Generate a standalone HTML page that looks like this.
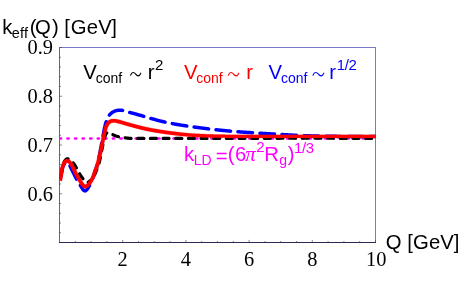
<!DOCTYPE html>
<html><head><meta charset="utf-8"><title>plot</title>
<style>html,body{margin:0;padding:0;background:#fff;width:463px;height:286px;overflow:hidden}</style>
</head><body>
<svg width="463" height="286" viewBox="0 0 463 286" style="position:absolute;left:0;top:0;will-change:transform">
<rect width="463" height="286" fill="#fff"/>
<path d="M59.00,47.50 H376.00 M375.50,47.50 V242.50" fill="none" stroke="#7a7acc" stroke-width="1"/>
<path d="M59.50,48.00 V243.00" fill="none" stroke="#686868" stroke-width="1"/>
<path d="M59.00,242.50 H376.00" fill="none" stroke="#2a2a52" stroke-width="1"/>
<path d="M75.30,242.50 v-1.5 M91.10,242.50 v-1.5 M106.90,242.50 v-1.5 M122.70,242.50 v-2.6 M138.50,242.50 v-1.5 M154.30,242.50 v-1.5 M170.10,242.50 v-1.5 M185.90,242.50 v-2.6 M201.70,242.50 v-1.5 M217.50,242.50 v-1.5 M233.30,242.50 v-1.5 M249.10,242.50 v-2.6 M264.90,242.50 v-1.5 M280.70,242.50 v-1.5 M296.50,242.50 v-1.5 M312.30,242.50 v-2.6 M328.10,242.50 v-1.5 M343.90,242.50 v-1.5 M359.70,242.50 v-1.5 M375.50,242.50 v-2.6 M59.50,232.75 h1.5 M59.50,223.00 h1.5 M59.50,213.25 h1.5 M59.50,203.50 h1.5 M59.50,193.75 h2.6 M59.50,184.00 h1.5 M59.50,174.25 h1.5 M59.50,164.50 h1.5 M59.50,154.75 h1.5 M59.50,145.00 h2.6 M59.50,135.25 h1.5 M59.50,125.50 h1.5 M59.50,115.75 h1.5 M59.50,106.00 h1.5 M59.50,96.25 h2.6 M59.50,86.50 h1.5 M59.50,76.75 h1.5 M59.50,67.00 h1.5 M59.50,57.25 h1.5 M59.50,47.50 h2.6" stroke="#3a3a4a" stroke-width="0.6" fill="none"/>
<clipPath id="c"><rect x="59.50" y="47.50" width="316.00" height="195.00"/></clipPath>
<g clip-path="url(#c)" fill="none" stroke-linejoin="round">
<path d="M59.9,138.5 H375.50" stroke="#ff00ff" stroke-width="2.6" stroke-linecap="round" stroke-dasharray="1.2 6.37"/>
<path d="M60.15,180.70 L60.23,180.21 L60.31,179.71 L60.39,179.22 L60.48,178.73 L60.56,178.23 L60.64,177.74 L60.73,177.25 L60.82,176.76 L60.91,176.27 L61.00,175.78 L61.09,175.28 L61.17,174.79 L61.26,174.30 L61.34,173.80 L61.41,173.31 L61.49,172.81 L61.57,172.32 L61.65,171.83 L61.74,171.33 L61.82,170.84 L61.91,170.35 L62.01,169.86 L62.12,169.37 L62.23,168.89 L62.35,168.40 L62.49,167.92 L62.63,167.44 L62.79,166.96 L62.97,166.49 L63.16,166.03 L63.36,165.57 L63.58,165.12 L63.80,164.67 L64.06,164.24 L64.35,163.82 L64.68,163.44 L65.05,163.09 L65.44,162.81 L65.92,162.60 L66.41,162.50 L66.90,162.55 L67.38,162.72 L67.82,162.98 L68.22,163.29 L68.59,163.63 L68.91,164.01 L69.19,164.41 L69.45,164.82 L69.69,165.25 L69.91,165.69 L70.13,166.15 L70.34,166.60 L70.54,167.07 L70.75,167.53 L70.96,168.00 L71.18,168.46 L71.41,168.92 L71.64,169.37 L71.86,169.82 L72.09,170.27 L72.32,170.71 L72.55,171.16 L72.78,171.60 L73.00,172.04 L73.23,172.48 L73.45,172.92 L73.68,173.36 L73.90,173.81 L74.13,174.25 L74.34,174.70 L74.56,175.16 L74.77,175.61 L74.99,176.06 L75.20,176.51 L75.42,176.96 L75.64,177.41 L75.86,177.86 L76.09,178.30 L76.33,178.74 L76.58,179.17 L76.83,179.60 L77.09,180.03 L77.36,180.45 L77.62,180.88 L77.88,181.31 L78.14,181.73 L78.40,182.16 L78.66,182.60 L78.92,183.03 L79.17,183.46 L79.43,183.89 L79.69,184.31 L79.96,184.74 L80.22,185.16 L80.48,185.57 L80.75,185.98 L81.00,186.39 L81.26,186.80 L81.52,187.21 L81.78,187.62 L82.05,188.04 L82.34,188.48 L82.65,188.92 L82.98,189.38 L83.34,189.83 L83.72,190.24 L84.11,190.58 L84.51,190.81 L84.91,190.90 L85.31,190.84 L85.74,190.63 L86.16,190.33 L86.58,189.94 L86.96,189.51 L87.29,189.07 L87.60,188.63 L87.89,188.20 L88.17,187.77 L88.43,187.35 L88.69,186.93 L88.93,186.51 L89.17,186.09 L89.40,185.66 L89.63,185.24 L89.85,184.80 L90.08,184.37 L90.29,183.92 L90.50,183.48 L90.71,183.03 L90.92,182.57 L91.12,182.12 L91.31,181.66 L91.51,181.19 L91.70,180.73 L91.89,180.26 L92.08,179.79 L92.26,179.32 L92.44,178.85 L92.63,178.38 L92.81,177.91 L92.99,177.44 L93.16,176.96 L93.34,176.49 L93.51,176.02 L93.68,175.55 L93.84,175.08 L94.01,174.61 L94.17,174.14 L94.33,173.66 L94.49,173.19 L94.65,172.72 L94.81,172.25 L94.98,171.78 L95.14,171.31 L95.30,170.83 L95.47,170.36 L95.63,169.89 L95.80,169.41 L95.96,168.94 L96.12,168.47 L96.28,167.99 L96.44,167.52 L96.60,167.04 L96.75,166.56 L96.90,166.09 L97.05,165.61 L97.19,165.13 L97.32,164.65 L97.45,164.17 L97.58,163.69 L97.70,163.21 L97.82,162.73 L97.94,162.25 L98.06,161.77 L98.17,161.28 L98.28,160.80 L98.39,160.32 L98.50,159.83 L98.61,159.35 L98.72,158.86 L98.82,158.37 L98.93,157.89 L99.03,157.40 L99.13,156.91 L99.23,156.42 L99.33,155.94 L99.43,155.45 L99.52,154.96 L99.62,154.47 L99.71,153.98 L99.81,153.49 L99.90,153.00 L100.00,152.50 L100.09,152.01 L100.18,151.52 L100.27,151.03 L100.36,150.54 L100.45,150.04 L100.54,149.55 L100.63,149.06 L100.72,148.57 L100.81,148.07 L100.90,147.58 L100.99,147.08 L101.08,146.59 L101.17,146.10 L101.25,145.60 L101.34,145.11 L101.43,144.61 L101.52,144.12 L101.62,143.63 L101.71,143.13 L101.80,142.64 L101.89,142.14 L101.98,141.65 L102.08,141.15 L102.17,140.66 L102.27,140.17 L102.36,139.67 L102.46,139.18 L102.55,138.68 L102.64,138.19 L102.73,137.70 L102.82,137.20 L102.91,136.71 L103.00,136.22 L103.08,135.72 L103.17,135.23 L103.26,134.74 L103.34,134.25 L103.43,133.76 L103.52,133.26 L103.61,132.77 L103.70,132.28 L103.79,131.79 L103.88,131.30 L103.97,130.81 L104.06,130.32 L104.16,129.83 L104.26,129.34 L104.36,128.85 L104.46,128.37 L104.57,127.88 L104.67,127.39 L104.79,126.91 L104.90,126.42 L105.02,125.93 L105.14,125.45 L105.26,124.97 L105.39,124.48 L105.52,124.00 L105.65,123.52 L105.79,123.04 L105.93,122.56 L106.08,122.08 L106.24,121.61 L106.40,121.13 L106.56,120.66 L106.73,120.19 L106.91,119.72 L107.10,119.25 L107.30,118.79 L107.50,118.33 L107.72,117.88 L107.96,117.43 L108.20,116.99 L108.45,116.55 L108.71,116.13 L108.99,115.71 L109.27,115.31 L109.57,114.91 L109.88,114.53 L110.22,114.16 L110.58,113.81 L110.96,113.47 L111.35,113.14 L111.75,112.83 L112.17,112.54 L112.58,112.26 L113.00,112.00 L113.43,111.76 L113.87,111.53 L114.33,111.32 L114.80,111.13 L115.28,110.96 L115.76,110.80 L116.24,110.67 L116.72,110.55 L117.21,110.45 L117.71,110.36 L118.20,110.29 L118.70,110.25 L119.20,110.21 L119.70,110.20 L120.20,110.20 L120.70,110.22 L121.19,110.25 L121.69,110.30 L122.19,110.36 L122.69,110.44 L123.18,110.53 L123.68,110.63 L124.17,110.74 L124.66,110.86 L125.14,110.99 L125.62,111.14 L126.10,111.28 L126.57,111.44 L127.05,111.59 L127.52,111.75 L128.00,111.90 L128.48,112.05 L128.96,112.20 L129.44,112.34 L129.92,112.48 L130.40,112.62 L130.88,112.76 L131.36,112.89 L131.85,113.02 L132.33,113.16 L132.81,113.29 L133.29,113.41 L133.78,113.54 L134.26,113.67 L134.74,113.80 L135.22,113.92 L135.70,114.05 L136.19,114.18 L136.67,114.31 L137.15,114.44 L137.63,114.57 L138.11,114.70 L138.59,114.84 L139.07,114.97 L139.55,115.11 L140.03,115.25 L140.51,115.38 L140.99,115.52 L141.47,115.66 L141.95,115.80 L142.43,115.94 L142.91,116.08 L143.39,116.22 L143.87,116.36 L144.35,116.50 L144.83,116.64 L145.31,116.78 L145.79,116.93 L146.27,117.07 L146.75,117.21 L147.23,117.35 L147.71,117.49 L148.19,117.63 L148.68,117.77 L149.16,117.91 L149.64,118.05 L150.12,118.19 L150.60,118.33 L151.08,118.47 L151.56,118.61 L152.04,118.74 L152.53,118.88 L153.01,119.02 L153.49,119.15 L153.97,119.29 L154.45,119.42 L154.93,119.55 L155.41,119.68 L155.90,119.82 L156.38,119.95 L156.86,120.08 L157.34,120.21 L157.83,120.33 L158.31,120.46 L158.79,120.59 L159.27,120.71 L159.76,120.84 L160.24,120.96 L160.73,121.08 L161.21,121.20 L161.70,121.32 L162.18,121.44 L162.67,121.56 L163.15,121.67 L163.64,121.79 L164.12,121.90 L164.61,122.01 L165.10,122.12 L165.58,122.23 L166.07,122.34 L166.56,122.44 L167.05,122.55 L167.54,122.65 L168.03,122.76 L168.52,122.86 L169.01,122.96 L169.50,123.06 L169.99,123.15 L170.48,123.25 L170.97,123.34 L171.46,123.44 L171.95,123.53 L172.44,123.62 L172.93,123.72 L173.43,123.81 L173.92,123.89 L174.41,123.98 L174.90,124.07 L175.40,124.16 L175.89,124.24 L176.38,124.33 L176.87,124.41 L177.37,124.49 L177.86,124.58 L178.35,124.66 L178.85,124.74 L179.34,124.82 L179.84,124.90 L180.33,124.98 L180.82,125.06 L181.32,125.13 L181.81,125.21 L182.30,125.29 L182.80,125.36 L183.29,125.44 L183.78,125.52 L184.28,125.59 L184.77,125.67 L185.27,125.74 L185.76,125.81 L186.25,125.89 L186.75,125.96 L187.24,126.03 L187.73,126.11 L188.23,126.18 L188.72,126.25 L189.22,126.32 L189.71,126.39 L190.21,126.46 L190.70,126.54 L191.20,126.61 L191.69,126.68 L192.19,126.75 L192.68,126.81 L193.18,126.88 L193.67,126.95 L194.17,127.02 L194.66,127.09 L195.16,127.16 L195.65,127.22 L196.15,127.29 L196.64,127.36 L197.14,127.42 L197.63,127.49 L198.13,127.56 L198.63,127.62 L199.12,127.69 L199.62,127.75 L200.11,127.82 L200.61,127.88 L201.10,127.94 L201.60,128.01 L202.10,128.07 L202.59,128.13 L203.09,128.20 L203.58,128.26 L204.08,128.32 L204.58,128.38 L205.07,128.44 L205.57,128.51 L206.07,128.57 L206.56,128.63 L207.06,128.69 L207.55,128.75 L208.05,128.81 L208.55,128.87 L209.04,128.92 L209.54,128.98 L210.04,129.04 L210.53,129.10 L211.03,129.16 L211.52,129.21 L212.02,129.27 L212.52,129.33 L213.01,129.38 L213.51,129.44 L214.01,129.50 L214.50,129.55 L215.00,129.61 L215.50,129.66 L215.99,129.72 L216.49,129.77 L216.99,129.82 L217.49,129.88 L217.98,129.93 L218.48,129.98 L218.98,130.03 L219.47,130.09 L219.97,130.14 L220.47,130.19 L220.97,130.24 L221.46,130.29 L221.96,130.34 L222.46,130.39 L222.95,130.44 L223.45,130.49 L223.95,130.54 L224.45,130.59 L224.94,130.63 L225.44,130.68 L225.94,130.73 L226.44,130.78 L226.93,130.82 L227.43,130.87 L227.93,130.91 L228.43,130.96 L228.93,131.00 L229.42,131.05 L229.92,131.09 L230.42,131.14 L230.92,131.18 L231.41,131.22 L231.91,131.27 L232.41,131.31 L232.91,131.35 L233.41,131.39 L233.90,131.43 L234.40,131.47 L234.90,131.51 L235.40,131.55 L235.90,131.59 L236.39,131.63 L236.89,131.67 L237.39,131.71 L237.89,131.75 L238.39,131.79 L238.89,131.82 L239.38,131.86 L239.88,131.90 L240.38,131.94 L240.88,131.97 L241.38,132.01 L241.88,132.04 L242.38,132.08 L242.87,132.12 L243.37,132.15 L243.87,132.19 L244.37,132.22 L244.87,132.26 L245.37,132.29 L245.87,132.32 L246.36,132.36 L246.86,132.39 L247.36,132.43 L247.86,132.46 L248.36,132.49 L248.86,132.53 L249.36,132.56 L249.86,132.59 L250.35,132.62 L250.85,132.66 L251.35,132.69 L251.85,132.72 L252.35,132.75 L252.85,132.78 L253.35,132.81 L253.84,132.85 L254.34,132.88 L254.84,132.91 L255.34,132.94 L255.84,132.97 L256.34,133.00 L256.84,133.03 L257.34,133.06 L257.83,133.09 L258.33,133.12 L258.83,133.15 L259.33,133.18 L259.83,133.21 L260.33,133.25 L260.83,133.28 L261.33,133.31 L261.83,133.34 L262.32,133.36 L262.82,133.39 L263.32,133.42 L263.82,133.45 L264.32,133.48 L264.82,133.51 L265.32,133.54 L265.82,133.57 L266.32,133.60 L266.81,133.63 L267.31,133.66 L267.81,133.69 L268.31,133.72 L268.81,133.75 L269.31,133.78 L269.81,133.81 L270.31,133.84 L270.81,133.87 L271.31,133.90 L271.80,133.93 L272.30,133.96 L272.80,133.99 L273.30,134.02 L273.80,134.05 L274.30,134.08 L274.80,134.11 L275.30,134.14 L275.80,134.17 L276.29,134.20 L276.79,134.23 L277.29,134.26 L277.79,134.29 L278.29,134.32 L278.79,134.35 L279.29,134.38 L279.79,134.41 L280.29,134.44 L280.78,134.47 L281.28,134.50 L281.78,134.53 L282.28,134.56 L282.78,134.59 L283.28,134.61 L283.78,134.64 L284.28,134.67 L284.78,134.70 L285.27,134.73 L285.77,134.76 L286.27,134.79 L286.77,134.82 L287.27,134.85 L287.77,134.87 L288.27,134.90 L288.77,134.93 L289.27,134.96 L289.77,134.99 L290.26,135.01 L290.76,135.04 L291.26,135.07 L291.76,135.09 L292.26,135.12 L292.76,135.15 L293.26,135.17 L293.76,135.20 L294.26,135.22 L294.76,135.25 L295.26,135.28 L295.75,135.30 L296.25,135.32 L296.75,135.35 L297.25,135.37 L297.75,135.40 L298.25,135.42 L298.75,135.44 L299.25,135.47 L299.75,135.49 L300.25,135.51 L300.75,135.53 L301.25,135.55 L301.74,135.58 L302.24,135.60 L302.74,135.62 L303.24,135.64 L303.74,135.66 L304.24,135.68 L304.74,135.70 L305.24,135.72 L305.74,135.73 L306.24,135.75 L306.74,135.77 L307.24,135.79 L307.74,135.81 L308.24,135.82 L308.74,135.84 L309.24,135.86 L309.74,135.87 L310.24,135.89 L310.73,135.90 L311.23,135.92 L311.73,135.93 L312.23,135.95 L312.73,135.96 L313.23,135.98 L313.73,135.99 L314.23,136.01 L314.73,136.02 L315.23,136.03 L315.73,136.04 L316.23,136.06 L316.73,136.07 L317.23,136.08 L317.73,136.09 L318.23,136.11 L318.73,136.12 L319.23,136.13 L319.73,136.14 L320.23,136.15 L320.73,136.16 L321.23,136.17 L321.73,136.18 L322.23,136.19 L322.73,136.20 L323.23,136.21 L323.72,136.22 L324.22,136.22 L324.72,136.23 L325.22,136.24 L325.72,136.25 L326.22,136.26 L326.72,136.26 L327.22,136.27 L327.72,136.28 L328.22,136.29 L328.72,136.29 L329.22,136.30 L329.72,136.31 L330.22,136.31 L330.72,136.32 L331.22,136.32 L331.72,136.33 L332.22,136.33 L332.72,136.34 L333.22,136.35 L333.72,136.35 L334.22,136.36 L334.72,136.36 L335.22,136.36 L335.72,136.37 L336.22,136.37 L336.72,136.38 L337.22,136.38 L337.72,136.38 L338.22,136.39 L338.72,136.39 L339.22,136.39 L339.72,136.40 L340.22,136.40 L340.72,136.40 L341.22,136.41 L341.72,136.41 L342.22,136.41 L342.72,136.42 L343.22,136.42 L343.71,136.42 L344.21,136.42 L344.71,136.42 L345.21,136.43 L345.71,136.43 L346.21,136.43 L346.71,136.43 L347.21,136.43 L347.71,136.44 L348.21,136.44 L348.71,136.44 L349.21,136.44 L349.71,136.44 L350.21,136.44 L350.71,136.44 L351.21,136.44 L351.71,136.45 L352.21,136.45 L352.71,136.45 L353.21,136.45 L353.71,136.45 L354.21,136.45 L354.71,136.45 L355.21,136.45 L355.71,136.45 L356.21,136.45 L356.71,136.45 L357.21,136.46 L357.71,136.46 L358.21,136.46 L358.71,136.46 L359.21,136.46 L359.71,136.46 L360.21,136.46 L360.71,136.46 L361.21,136.46 L361.71,136.46 L362.21,136.46 L362.71,136.46 L363.21,136.46 L363.71,136.47 L364.20,136.47 L364.70,136.47 L365.20,136.47 L365.70,136.47 L366.20,136.47 L366.70,136.47 L367.20,136.47 L367.70,136.47 L368.20,136.47 L368.70,136.48 L369.20,136.48 L369.70,136.48 L370.20,136.48 L370.70,136.48 L371.20,136.48 L371.70,136.48 L372.20,136.49 L372.70,136.49 L373.20,136.49 L373.70,136.49 L374.20,136.49 L374.70,136.50 L375.20,136.50 L375.70,136.50" stroke="#0000ff" stroke-width="3.5" stroke-linecap="round" stroke-dasharray="14.6 7.44" stroke-dashoffset="18.72"/>
<path d="M60.20,180.70 L60.28,180.21 L60.37,179.72 L60.45,179.22 L60.54,178.73 L60.62,178.24 L60.71,177.75 L60.80,177.26 L60.88,176.76 L60.97,176.27 L61.06,175.78 L61.15,175.29 L61.24,174.80 L61.32,174.31 L61.41,173.81 L61.49,173.32 L61.58,172.83 L61.66,172.34 L61.75,171.85 L61.83,171.36 L61.92,170.87 L62.01,170.37 L62.10,169.88 L62.20,169.39 L62.30,168.90 L62.40,168.41 L62.50,167.92 L62.62,167.43 L62.73,166.94 L62.85,166.46 L62.97,165.97 L63.09,165.48 L63.22,165.00 L63.36,164.52 L63.50,164.04 L63.65,163.56 L63.81,163.09 L63.98,162.62 L64.16,162.16 L64.36,161.70 L64.57,161.24 L64.82,160.80 L65.11,160.38 L65.42,159.98 L65.76,159.62 L66.13,159.30 L66.56,159.03 L67.05,158.84 L67.53,158.75 L68.03,158.77 L68.52,158.89 L68.99,159.09 L69.42,159.34 L69.83,159.62 L70.23,159.93 L70.63,160.23 L71.03,160.55 L71.41,160.87 L71.79,161.19 L72.15,161.54 L72.49,161.89 L72.82,162.27 L73.13,162.65 L73.43,163.05 L73.71,163.46 L74.00,163.88 L74.27,164.30 L74.54,164.73 L74.81,165.15 L75.07,165.58 L75.32,166.01 L75.57,166.44 L75.82,166.87 L76.07,167.30 L76.31,167.74 L76.55,168.17 L76.80,168.61 L77.04,169.05 L77.28,169.49 L77.51,169.94 L77.74,170.38 L77.97,170.82 L78.20,171.27 L78.43,171.71 L78.66,172.15 L78.90,172.59 L79.14,173.03 L79.38,173.46 L79.64,173.89 L79.90,174.32 L80.16,174.74 L80.43,175.16 L80.71,175.58 L80.99,175.99 L81.27,176.41 L81.56,176.81 L81.85,177.22 L82.15,177.62 L82.45,178.02 L82.75,178.41 L83.06,178.81 L83.37,179.20 L83.68,179.59 L84.00,179.97 L84.33,180.34 L84.67,180.71 L85.02,181.06 L85.40,181.41 L85.80,181.74 L86.24,182.04 L86.70,182.26 L87.17,182.39 L87.61,182.38 L88.07,182.25 L88.52,182.02 L88.96,181.72 L89.40,181.38 L89.83,181.02 L90.26,180.68 L90.68,180.38 L91.09,180.14 L91.50,180.00" stroke="#000" stroke-width="3.2" stroke-linecap="round" stroke-dasharray="6 6.66" stroke-dashoffset="6.71"/>
<path d="M91.50,180.00 L91.82,179.62 L92.13,179.22 L92.43,178.82 L92.72,178.41 L93.00,178.00 L93.26,177.57 L93.50,177.14 L93.74,176.70 L93.96,176.26 L94.18,175.81 L94.39,175.36 L94.59,174.90 L94.79,174.44 L94.98,173.98 L95.18,173.52 L95.37,173.05 L95.56,172.58 L95.75,172.12 L95.94,171.65 L96.14,171.19 L96.33,170.72 L96.53,170.26 L96.72,169.79 L96.91,169.33 L97.11,168.86 L97.29,168.40 L97.48,167.93 L97.66,167.47 L97.83,167.00 L98.00,166.53 L98.16,166.06 L98.32,165.60 L98.46,165.12 L98.60,164.65 L98.74,164.18 L98.87,163.71 L99.00,163.23 L99.13,162.75 L99.26,162.27 L99.38,161.80 L99.50,161.32 L99.62,160.83 L99.73,160.35 L99.84,159.87 L99.95,159.38 L100.06,158.90 L100.17,158.41 L100.27,157.93 L100.38,157.44 L100.48,156.95 L100.58,156.46 L100.68,155.97 L100.78,155.48 L100.88,154.99 L100.97,154.50 L101.07,154.01 L101.16,153.52 L101.26,153.03 L101.35,152.54 L101.45,152.04 L101.54,151.55 L101.63,151.06 L101.73,150.56 L101.82,150.07 L101.92,149.58 L102.01,149.08 L102.11,148.59 L102.20,148.10 L102.30,147.60 L102.40,147.11 L102.50,146.62 L102.60,146.12 L102.70,145.63 L102.80,145.14 L102.91,144.64 L103.01,144.15 L103.12,143.66 L103.23,143.17 L103.34,142.68 L103.46,142.19 L103.57,141.70 L103.69,141.21 L103.81,140.72 L103.94,140.24 L104.07,139.75 L104.19,139.26 L104.32,138.78 L104.44,138.30 L104.58,137.81 L104.71,137.33 L104.85,136.86 L105.00,136.38 L105.16,135.91 L105.33,135.44 L105.51,134.97 L105.71,134.50 L105.94,134.05 L106.19,133.62 L106.48,133.22 L106.85,132.86 L107.30,132.59 L107.76,132.48 L108.25,132.53 L108.75,132.69 L109.22,132.90 L109.68,133.11 L110.13,133.34 L110.57,133.56 L111.01,133.79 L111.45,134.02 L111.89,134.25 L112.35,134.47 L112.80,134.69 L113.26,134.90 L113.71,135.11 L114.17,135.31 L114.63,135.50 L115.09,135.68 L115.56,135.85 L116.03,136.01 L116.51,136.16 L116.99,136.30 L117.47,136.43 L117.95,136.56 L118.44,136.67 L118.93,136.78 L119.42,136.88 L119.91,136.98 L120.40,137.08 L120.89,137.17 L121.38,137.25 L121.88,137.34 L122.37,137.42 L122.86,137.50 L123.36,137.57 L123.85,137.64 L124.35,137.71 L124.84,137.78 L125.34,137.84 L125.84,137.91 L126.33,137.97 L126.83,138.03 L127.33,138.08 L127.82,138.13 L128.32,138.18 L128.82,138.22 L129.32,138.26 L129.82,138.29 L130.31,138.32 L130.81,138.34 L131.31,138.36 L131.81,138.37 L132.31,138.38 L132.81,138.39 L133.31,138.39 L133.81,138.40 L134.31,138.40 L134.81,138.40 L135.31,138.40 L135.81,138.40 L136.31,138.40 L136.81,138.40 L137.31,138.40 L137.81,138.40 L138.31,138.41 L138.81,138.41 L139.31,138.41 L139.81,138.41 L140.31,138.41 L140.81,138.41 L141.31,138.41 L141.81,138.41 L142.31,138.41 L142.81,138.41 L143.31,138.41 L143.81,138.41 L144.31,138.41 L144.81,138.41 L145.31,138.41 L145.81,138.42 L146.31,138.42 L146.81,138.42 L147.31,138.42 L147.81,138.42 L148.31,138.42 L148.80,138.42 L149.30,138.42 L149.80,138.42 L150.30,138.42 L150.80,138.42 L151.30,138.42 L151.80,138.42 L152.30,138.42 L152.80,138.42 L153.30,138.42 L153.80,138.42 L154.30,138.42 L154.80,138.42 L155.30,138.42 L155.80,138.42 L156.30,138.42 L156.80,138.42 L157.30,138.42 L157.80,138.42 L158.30,138.42 L158.80,138.42 L159.30,138.42 L159.80,138.42 L160.30,138.42 L160.80,138.42 L161.30,138.42 L161.80,138.42 L162.30,138.42 L162.80,138.42 L163.30,138.42 L163.80,138.42 L164.30,138.42 L164.80,138.42 L165.30,138.42 L165.80,138.42 L166.30,138.42 L166.80,138.42 L167.30,138.42 L167.80,138.42 L168.30,138.42 L168.80,138.42 L169.30,138.42 L169.80,138.42 L170.30,138.42 L170.79,138.42 L171.29,138.42 L171.79,138.42 L172.29,138.42 L172.79,138.42 L173.29,138.42 L173.79,138.42 L174.29,138.42 L174.79,138.42 L175.29,138.42 L175.79,138.42 L176.29,138.42 L176.79,138.42 L177.29,138.42 L177.79,138.42 L178.29,138.42 L178.79,138.42 L179.29,138.42 L179.79,138.42 L180.29,138.42 L180.79,138.42 L181.29,138.42 L181.79,138.42 L182.29,138.42 L182.79,138.42 L183.29,138.42 L183.79,138.42 L184.29,138.42 L184.79,138.42 L185.29,138.42 L185.79,138.42 L186.29,138.41 L186.79,138.41 L187.29,138.41 L187.79,138.41 L188.29,138.41 L188.79,138.41 L189.29,138.41 L189.79,138.41 L190.29,138.41 L190.79,138.41 L191.29,138.41 L191.79,138.41 L192.29,138.41 L192.79,138.41 L193.29,138.41 L193.78,138.41 L194.28,138.41 L194.78,138.41 L195.28,138.41 L195.78,138.41 L196.28,138.40 L196.78,138.40 L197.28,138.40 L197.78,138.40 L198.28,138.40 L198.78,138.40 L199.28,138.40 L199.78,138.40 L200.28,138.40 L200.78,138.40 L201.28,138.40 L201.78,138.40 L202.28,138.40 L202.78,138.40 L203.28,138.40 L203.78,138.39 L204.28,138.39 L204.78,138.39 L205.28,138.39 L205.78,138.39 L206.28,138.39 L206.78,138.39 L207.28,138.39 L207.78,138.39 L208.28,138.39 L208.78,138.39 L209.28,138.39 L209.78,138.39 L210.28,138.39 L210.78,138.38 L211.28,138.38 L211.78,138.38 L212.28,138.38 L212.78,138.38 L213.28,138.38 L213.78,138.38 L214.28,138.38 L214.78,138.38 L215.27,138.38 L215.77,138.38 L216.27,138.38 L216.77,138.38 L217.27,138.37 L217.77,138.37 L218.27,138.37 L218.77,138.37 L219.27,138.37 L219.77,138.37 L220.27,138.37 L220.77,138.37 L221.27,138.37 L221.77,138.37 L222.27,138.37 L222.77,138.37 L223.27,138.36 L223.77,138.36 L224.27,138.36 L224.77,138.36 L225.27,138.36 L225.77,138.36 L226.27,138.36 L226.77,138.36 L227.27,138.36 L227.77,138.36 L228.27,138.36 L228.77,138.36 L229.27,138.35 L229.77,138.35 L230.27,138.35 L230.77,138.35 L231.27,138.35 L231.77,138.35 L232.27,138.35 L232.77,138.35 L233.27,138.35 L233.77,138.35 L234.27,138.35 L234.77,138.35 L235.27,138.34 L235.77,138.34 L236.27,138.34 L236.76,138.34 L237.26,138.34 L237.76,138.34 L238.26,138.34 L238.76,138.34 L239.26,138.34 L239.76,138.34 L240.26,138.34 L240.76,138.33 L241.26,138.33 L241.76,138.33 L242.26,138.33 L242.76,138.33 L243.26,138.33 L243.76,138.33 L244.26,138.33 L244.76,138.33 L245.26,138.33 L245.76,138.33 L246.26,138.33 L246.76,138.32 L247.26,138.32 L247.76,138.32 L248.26,138.32 L248.76,138.32 L249.26,138.32 L249.76,138.32 L250.26,138.32 L250.76,138.32 L251.26,138.32 L251.76,138.32 L252.26,138.31 L252.76,138.31 L253.26,138.31 L253.76,138.31 L254.26,138.31 L254.76,138.31 L255.26,138.31 L255.76,138.31 L256.26,138.31 L256.76,138.31 L257.26,138.31 L257.76,138.31 L258.25,138.31 L258.75,138.30 L259.25,138.30 L259.75,138.30 L260.25,138.30 L260.75,138.30 L261.25,138.30 L261.75,138.30 L262.25,138.30 L262.75,138.30 L263.25,138.30 L263.75,138.30 L264.25,138.30 L264.75,138.30 L265.25,138.29 L265.75,138.29 L266.25,138.29 L266.75,138.29 L267.25,138.29 L267.75,138.29 L268.25,138.29 L268.75,138.29 L269.25,138.29 L269.75,138.29 L270.25,138.29 L270.75,138.29 L271.25,138.29 L271.75,138.29 L272.25,138.28 L272.75,138.28 L273.25,138.28 L273.75,138.28 L274.25,138.28 L274.75,138.28 L275.25,138.28 L275.75,138.28 L276.25,138.28 L276.75,138.28 L277.25,138.28 L277.75,138.28 L278.25,138.28 L278.75,138.28 L279.25,138.28 L279.74,138.28 L280.24,138.27 L280.74,138.27 L281.24,138.27 L281.74,138.27 L282.24,138.27 L282.74,138.27 L283.24,138.27 L283.74,138.27 L284.24,138.27 L284.74,138.27 L285.24,138.27 L285.74,138.27 L286.24,138.27 L286.74,138.27 L287.24,138.27 L287.74,138.27 L288.24,138.27 L288.74,138.27 L289.24,138.27 L289.74,138.27 L290.24,138.27 L290.74,138.27 L291.24,138.26 L291.74,138.26 L292.24,138.26 L292.74,138.26 L293.24,138.26 L293.74,138.26 L294.24,138.26 L294.74,138.26 L295.24,138.26 L295.74,138.26 L296.24,138.26 L296.74,138.26 L297.24,138.26 L297.74,138.26 L298.24,138.26 L298.74,138.26 L299.24,138.26 L299.74,138.26 L300.24,138.26 L300.74,138.26 L301.23,138.26 L301.73,138.26 L302.23,138.26 L302.73,138.26 L303.23,138.26 L303.73,138.26 L304.23,138.26 L304.73,138.26 L305.23,138.26 L305.73,138.26 L306.23,138.26 L306.73,138.26 L307.23,138.26 L307.73,138.26 L308.23,138.26 L308.73,138.26 L309.23,138.26 L309.73,138.26 L310.23,138.26 L310.73,138.26 L311.23,138.26 L311.73,138.26 L312.23,138.26 L312.73,138.26 L313.23,138.26 L313.73,138.26 L314.23,138.26 L314.73,138.26 L315.23,138.26 L315.73,138.26 L316.23,138.26 L316.73,138.26 L317.23,138.26 L317.73,138.26 L318.23,138.26 L318.73,138.26 L319.23,138.26 L319.73,138.26 L320.23,138.26 L320.73,138.26 L321.23,138.26 L321.73,138.26 L322.22,138.26 L322.72,138.26 L323.22,138.26 L323.72,138.26 L324.22,138.26 L324.72,138.26 L325.22,138.26 L325.72,138.27 L326.22,138.27 L326.72,138.27 L327.22,138.27 L327.72,138.27 L328.22,138.27 L328.72,138.27 L329.22,138.27 L329.72,138.27 L330.22,138.27 L330.72,138.27 L331.22,138.27 L331.72,138.27 L332.22,138.27 L332.72,138.27 L333.22,138.27 L333.72,138.27 L334.22,138.28 L334.72,138.28 L335.22,138.28 L335.72,138.28 L336.22,138.28 L336.72,138.28 L337.22,138.28 L337.72,138.28 L338.22,138.28 L338.72,138.28 L339.22,138.28 L339.72,138.28 L340.22,138.29 L340.72,138.29 L341.22,138.29 L341.72,138.29 L342.22,138.29 L342.72,138.29 L343.22,138.29 L343.71,138.29 L344.21,138.29 L344.71,138.29 L345.21,138.30 L345.71,138.30 L346.21,138.30 L346.71,138.30 L347.21,138.30 L347.71,138.30 L348.21,138.30 L348.71,138.30 L349.21,138.30 L349.71,138.31 L350.21,138.31 L350.71,138.31 L351.21,138.31 L351.71,138.31 L352.21,138.31 L352.71,138.31 L353.21,138.32 L353.71,138.32 L354.21,138.32 L354.71,138.32 L355.21,138.32 L355.71,138.32 L356.21,138.32 L356.71,138.33 L357.21,138.33 L357.71,138.33 L358.21,138.33 L358.71,138.33 L359.21,138.33 L359.71,138.34 L360.21,138.34 L360.71,138.34 L361.21,138.34 L361.71,138.34 L362.21,138.34 L362.71,138.35 L363.21,138.35 L363.71,138.35 L364.21,138.35 L364.71,138.35 L365.20,138.36 L365.70,138.36 L366.20,138.36 L366.70,138.36 L367.20,138.36 L367.70,138.36 L368.20,138.37 L368.70,138.37 L369.20,138.37 L369.70,138.37 L370.20,138.38 L370.70,138.38 L371.20,138.38 L371.70,138.38 L372.20,138.38 L372.70,138.39 L373.20,138.39 L373.70,138.39 L374.20,138.39 L374.70,138.40 L375.20,138.40 L375.70,138.40" stroke="#000" stroke-width="3.2" stroke-linecap="round" stroke-dasharray="6 6.66" stroke-dashoffset="6.66"/>
<path d="M61.97,181.00 L62.06,180.51 L62.14,180.02 L62.22,179.52 L62.30,179.03 L62.39,178.54 L62.47,178.05 L62.55,177.55 L62.63,177.06 L62.71,176.57 L62.80,176.08 L62.88,175.58 L62.96,175.09 L63.04,174.58 L63.12,174.08 L63.20,173.58 L63.27,173.08 L63.35,172.59 L63.42,172.10 L63.50,171.62 L63.58,171.13 L63.66,170.65 L63.74,170.18 L63.83,169.71 L63.92,169.24 L64.02,168.78 L64.13,168.32 L64.24,167.87 L64.36,167.42 L64.49,166.98 L64.63,166.54 L64.77,166.10 L64.93,165.67 L65.10,165.25 L65.27,164.83 L65.46,164.43 L65.64,164.06 L65.83,163.73 L66.04,163.43 L66.26,163.15 L66.48,162.92 L66.64,162.77 L66.79,162.69 L66.89,162.65 L66.88,162.65 L66.98,162.68 L67.20,162.77 L67.49,162.92 L67.79,163.12 L68.09,163.34 L68.38,163.59 L68.66,163.87 L68.95,164.17 L69.22,164.49 L69.48,164.81 L69.71,165.15 L69.93,165.50 L70.15,165.88 L70.37,166.27 L70.58,166.68 L70.78,167.10 L70.99,167.53 L71.19,167.97 L71.40,168.42 L71.61,168.89 L71.82,169.36 L72.05,169.83 L72.26,170.29 L72.48,170.74 L72.69,171.19 L72.90,171.64 L73.12,172.10 L73.33,172.55 L73.55,173.01 L73.77,173.46 L73.99,173.92 L74.22,174.38 L74.45,174.83 L74.68,175.29 L74.92,175.74 L75.17,176.20 L75.41,176.64 L75.66,177.09 L75.90,177.54 L76.16,177.98 L76.41,178.42 L76.67,178.86 L76.92,179.30 L77.18,179.74 L77.44,180.17 L77.70,180.61 L77.96,181.03 L78.22,181.46 L78.48,181.89 L78.74,182.32 L79.00,182.75 L79.28,183.19 L79.56,183.63 L79.85,184.07 L80.15,184.51 L80.45,184.94 L80.76,185.38 L81.11,185.83 L81.48,186.29 L81.91,186.75 L82.42,187.21 L83.05,187.66 L83.78,188.02 L84.61,188.28 L85.54,188.34 L86.43,188.18 L87.19,187.87 L87.84,187.50 L88.40,187.09 L88.87,186.69 L89.30,186.29 L89.70,185.88 L90.08,185.47 L90.44,185.05 L90.79,184.62 L91.12,184.19 L91.44,183.75 L91.75,183.30 L92.05,182.85 L92.34,182.40 L92.61,181.94 L92.88,181.48 L93.14,181.02 L93.39,180.57 L93.63,180.11 L93.87,179.65 L94.11,179.18 L94.34,178.71 L94.56,178.23 L94.78,177.74 L94.99,177.25 L95.20,176.74 L95.39,176.24 L95.56,175.73 L95.73,175.23 L95.88,174.74 L96.03,174.25 L96.18,173.78 L96.32,173.31 L96.47,172.85 L96.62,172.40 L96.78,171.94 L96.94,171.48 L97.11,171.02 L97.28,170.56 L97.46,170.09 L97.64,169.62 L97.82,169.15 L98.00,168.68 L98.17,168.20 L98.35,167.72 L98.52,167.23 L98.69,166.74 L98.85,166.25 L99.01,165.75 L99.15,165.26 L99.29,164.78 L99.43,164.30 L99.56,163.82 L99.70,163.33 L99.83,162.85 L99.96,162.37 L100.08,161.88 L100.21,161.40 L100.33,160.91 L100.46,160.42 L100.58,159.94 L100.70,159.45 L100.82,158.96 L100.93,158.47 L101.05,157.98 L101.16,157.49 L101.27,157.00 L101.39,156.51 L101.50,156.02 L101.61,155.53 L101.72,155.04 L101.82,154.55 L101.93,154.06 L102.04,153.56 L102.14,153.07 L102.25,152.58 L102.35,152.09 L102.46,151.59 L102.56,151.10 L102.66,150.61 L102.77,150.12 L102.87,149.62 L102.97,149.13 L103.07,148.64 L103.17,148.14 L103.28,147.65 L103.38,147.16 L103.48,146.67 L103.58,146.17 L103.68,145.68 L103.79,145.19 L103.89,144.70 L103.99,144.21 L104.09,143.71 L104.20,143.22 L104.30,142.73 L104.41,142.24 L104.51,141.75 L104.62,141.26 L104.72,140.77 L104.83,140.28 L104.94,139.78 L105.05,139.28 L105.15,138.78 L105.25,138.28 L105.35,137.78 L105.44,137.29 L105.54,136.80 L105.63,136.31 L105.73,135.82 L105.82,135.34 L105.92,134.85 L106.01,134.37 L106.11,133.89 L106.21,133.41 L106.31,132.94 L106.42,132.46 L106.53,131.99 L106.64,131.52 L106.76,131.05 L106.88,130.59 L107.00,130.12 L107.13,129.66 L107.27,129.20 L107.41,128.75 L107.56,128.30 L107.72,127.86 L107.88,127.42 L108.05,126.99 L108.23,126.58 L108.42,126.17 L108.62,125.78 L108.83,125.39 L109.03,125.04 L109.24,124.73 L109.46,124.44 L109.72,124.16 L110.00,123.89 L110.30,123.63 L110.61,123.41 L110.90,123.22 L111.18,123.07 L111.48,122.94 L111.83,122.83 L112.21,122.74 L112.61,122.67 L113.02,122.63 L113.42,122.60 L113.82,122.60 L114.23,122.61 L114.66,122.65 L115.09,122.70 L115.53,122.76 L115.98,122.84 L116.44,122.94 L116.90,123.04 L117.37,123.15 L117.84,123.27 L118.32,123.39 L118.79,123.51 L119.26,123.64 L119.73,123.77 L120.20,123.91 L120.67,124.04 L121.15,124.18 L121.62,124.32 L122.10,124.46 L122.57,124.61 L123.05,124.75 L123.53,124.89 L124.01,125.04 L124.49,125.18 L124.98,125.32 L125.46,125.46 L125.95,125.61 L126.43,125.75 L126.91,125.89 L127.39,126.02 L127.88,126.16 L128.36,126.30 L128.84,126.44 L129.33,126.57 L129.81,126.71 L130.29,126.84 L130.78,126.97 L131.26,127.11 L131.74,127.24 L132.23,127.37 L132.71,127.50 L133.20,127.63 L133.68,127.76 L134.17,127.89 L134.65,128.02 L135.14,128.15 L135.62,128.28 L136.11,128.41 L136.59,128.53 L137.08,128.66 L137.57,128.78 L138.05,128.91 L138.54,129.03 L139.03,129.16 L139.52,129.28 L140.00,129.40 L140.49,129.52 L140.98,129.64 L141.47,129.76 L141.96,129.88 L142.45,129.99 L142.94,130.11 L143.44,130.22 L143.93,130.33 L144.42,130.44 L144.91,130.55 L145.41,130.66 L145.90,130.77 L146.40,130.88 L146.89,130.98 L147.38,131.08 L147.88,131.18 L148.37,131.28 L148.87,131.38 L149.36,131.48 L149.86,131.58 L150.35,131.67 L150.85,131.76 L151.35,131.86 L151.84,131.95 L152.34,132.04 L152.83,132.12 L153.33,132.21 L153.83,132.30 L154.32,132.38 L154.82,132.47 L155.31,132.55 L155.81,132.63 L156.31,132.72 L156.80,132.80 L157.30,132.88 L157.80,132.96 L158.29,133.03 L158.79,133.11 L159.29,133.19 L159.78,133.26 L160.28,133.34 L160.78,133.41 L161.27,133.49 L161.77,133.56 L162.27,133.63 L162.76,133.71 L163.26,133.78 L163.75,133.85 L164.25,133.92 L164.75,133.99 L165.24,134.06 L165.74,134.13 L166.24,134.19 L166.73,134.26 L167.23,134.33 L167.73,134.40 L168.22,134.46 L168.72,134.53 L169.22,134.59 L169.72,134.66 L170.21,134.72 L170.71,134.79 L171.21,134.85 L171.71,134.91 L172.21,134.97 L172.70,135.04 L173.20,135.10 L173.70,135.16 L174.20,135.22 L174.70,135.27 L175.20,135.33 L175.70,135.39 L176.20,135.45 L176.70,135.50 L177.19,135.56 L177.69,135.61 L178.19,135.67 L178.69,135.72 L179.19,135.78 L179.69,135.83 L180.19,135.88 L180.69,135.93 L181.19,135.98 L181.69,136.03 L182.19,136.08 L182.69,136.13 L183.19,136.17 L183.69,136.22 L184.19,136.27 L184.69,136.31 L185.20,136.35 L185.70,136.40 L186.20,136.44 L186.70,136.48 L187.20,136.52 L187.70,136.56 L188.20,136.60 L188.70,136.64 L189.20,136.68 L189.70,136.72 L190.20,136.75 L190.70,136.79 L191.21,136.82 L191.71,136.85 L192.21,136.89 L192.71,136.92 L193.21,136.95 L193.71,136.98 L194.21,137.01 L194.71,137.04 L195.22,137.07 L195.72,137.09 L196.22,137.12 L196.72,137.14 L197.22,137.17 L197.72,137.19 L198.22,137.22 L198.73,137.24 L199.23,137.26 L199.73,137.29 L200.23,137.31 L200.73,137.33 L201.23,137.35 L201.74,137.37 L202.24,137.39 L202.74,137.41 L203.24,137.42 L203.74,137.44 L204.24,137.46 L204.74,137.47 L205.24,137.49 L205.75,137.51 L206.25,137.52 L206.75,137.54 L207.25,137.55 L207.75,137.57 L208.25,137.58 L208.75,137.59 L209.25,137.61 L209.75,137.62 L210.25,137.63 L210.75,137.64 L211.25,137.65 L211.75,137.67 L212.25,137.68 L212.75,137.69 L213.26,137.70 L213.76,137.71 L214.26,137.72 L214.76,137.73 L215.26,137.74 L215.76,137.75 L216.26,137.75 L216.76,137.76 L217.26,137.77 L217.76,137.78 L218.26,137.79 L218.76,137.79 L219.26,137.80 L219.76,137.81 L220.26,137.82 L220.76,137.82 L221.26,137.83 L221.76,137.84 L222.26,137.84 L222.76,137.85 L223.26,137.85 L223.76,137.86 L224.26,137.86 L224.77,137.87 L225.27,137.87 L225.77,137.88 L226.27,137.88 L226.77,137.89 L227.27,137.89 L227.77,137.90 L228.27,137.90 L228.77,137.91 L229.27,137.91 L229.77,137.91 L230.27,137.92 L230.77,137.92 L231.27,137.92 L231.77,137.93 L232.27,137.93 L232.77,137.93 L233.27,137.94 L233.77,137.94 L234.27,137.94 L234.77,137.94 L235.27,137.95 L235.77,137.95 L236.27,137.96 L236.77,137.96 L237.27,137.96 L237.77,137.97 L238.27,137.97 L238.77,137.97 L239.27,137.98 L239.77,137.98 L240.27,137.98 L240.77,137.98 L241.27,137.99 L241.77,137.99 L242.27,137.99 L242.77,138.00 L243.27,138.00 L243.77,138.00 L244.27,138.00 L244.77,138.01 L245.27,138.01 L245.77,138.01 L246.27,138.01 L246.77,138.01 L247.27,138.02 L247.77,138.02 L248.27,138.02 L248.77,138.02 L249.27,138.02 L249.77,138.03 L250.27,138.03 L250.77,138.03 L251.27,138.03 L251.77,138.03 L252.27,138.03 L252.77,138.03 L253.27,138.04 L253.77,138.04 L254.27,138.04 L254.77,138.04 L255.27,138.04 L255.76,138.04 L256.26,138.04 L256.76,138.04 L257.26,138.04 L257.76,138.05 L258.26,138.05 L258.76,138.05 L259.26,138.05 L259.76,138.05 L260.26,138.05 L260.76,138.05 L261.26,138.05 L261.76,138.05 L262.26,138.05 L262.76,138.05 L263.26,138.06 L263.76,138.06 L264.26,138.06 L264.76,138.06 L265.26,138.06 L265.76,138.06 L266.26,138.06 L266.76,138.06 L267.26,138.06 L267.76,138.06 L268.26,138.06 L268.76,138.06 L269.26,138.06 L269.76,138.06 L270.26,138.06 L270.76,138.06 L271.26,138.06 L271.76,138.06 L272.26,138.06 L272.76,138.06 L273.26,138.06 L273.76,138.06 L274.26,138.07 L274.76,138.07 L275.26,138.07 L275.76,138.07 L276.26,138.07 L276.76,138.07 L277.26,138.07 L277.76,138.07 L278.26,138.07 L278.76,138.07 L279.25,138.07 L279.75,138.07 L280.25,138.07 L280.75,138.07 L281.25,138.07 L281.75,138.07 L282.25,138.07 L282.75,138.07 L283.25,138.07 L283.75,138.07 L284.25,138.07 L284.75,138.07 L285.25,138.07 L285.75,138.07 L286.25,138.07 L286.75,138.07 L287.25,138.07 L287.75,138.07 L288.25,138.07 L288.75,138.07 L289.25,138.07 L289.75,138.07 L290.25,138.06 L290.75,138.06 L291.25,138.06 L291.75,138.06 L292.25,138.06 L292.75,138.06 L293.25,138.06 L293.75,138.06 L294.25,138.06 L294.75,138.06 L295.25,138.06 L295.75,138.06 L296.25,138.06 L296.75,138.06 L297.25,138.06 L297.75,138.06 L298.25,138.06 L298.75,138.06 L299.24,138.06 L299.74,138.06 L300.24,138.06 L300.74,138.06 L301.24,138.06 L301.74,138.06 L302.24,138.06 L302.74,138.06 L303.24,138.06 L303.74,138.06 L304.24,138.06 L304.74,138.05 L305.24,138.05 L305.74,138.05 L306.24,138.05 L306.74,138.05 L307.24,138.05 L307.74,138.05 L308.24,138.05 L308.74,138.05 L309.24,138.05 L309.74,138.05 L310.24,138.05 L310.74,138.05 L311.24,138.05 L311.74,138.05 L312.24,138.05 L312.74,138.05 L313.24,138.05 L313.74,138.05 L314.24,138.05 L314.74,138.05 L315.24,138.04 L315.74,138.04 L316.24,138.04 L316.74,138.04 L317.23,138.04 L317.73,138.04 L318.23,138.04 L318.73,138.04 L319.23,138.04 L319.73,138.04 L320.23,138.04 L320.73,138.04 L321.23,138.04 L321.73,138.04 L322.23,138.04 L322.73,138.04 L323.23,138.04 L323.73,138.04 L324.23,138.04 L324.73,138.04 L325.23,138.04 L325.73,138.03 L326.23,138.03 L326.73,138.03 L327.23,138.03 L327.73,138.03 L328.23,138.03 L328.73,138.03 L329.23,138.03 L329.73,138.03 L330.23,138.03 L330.73,138.03 L331.23,138.03 L331.73,138.03 L332.23,138.03 L332.73,138.03 L333.23,138.03 L333.73,138.03 L334.22,138.03 L334.72,138.03 L335.22,138.03 L335.72,138.03 L336.22,138.03 L336.72,138.03 L337.22,138.03 L337.72,138.03 L338.22,138.03 L338.72,138.03 L339.22,138.03 L339.72,138.03 L340.22,138.02 L340.72,138.02 L341.22,138.02 L341.72,138.02 L342.22,138.02 L342.72,138.02 L343.22,138.02 L343.72,138.02 L344.22,138.02 L344.72,138.02 L345.22,138.02 L345.72,138.02 L346.22,138.02 L346.72,138.02 L347.22,138.02 L347.72,138.02 L348.22,138.02 L348.72,138.02 L349.22,138.02 L349.71,138.02 L350.21,138.02 L350.71,138.02 L351.21,138.02 L351.71,138.02 L352.21,138.02 L352.71,138.02 L353.21,138.02 L353.71,138.02 L354.21,138.02 L354.71,138.02 L355.21,138.02 L355.71,138.02 L356.21,138.02 L356.71,138.02 L357.21,138.03 L357.71,138.03 L358.21,138.03 L358.71,138.03 L359.21,138.03 L359.71,138.03 L360.21,138.03 L360.71,138.03 L361.21,138.03 L361.71,138.03 L362.21,138.03 L362.71,138.03 L363.21,138.03 L363.71,138.03 L364.20,138.03 L364.70,138.03 L365.20,138.03 L365.70,138.03 L366.20,138.03 L366.70,138.03 L367.20,138.03 L367.70,138.04 L368.20,138.04 L368.70,138.04 L369.20,138.04 L369.70,138.04 L370.20,138.04 L370.70,138.04 L371.20,138.04 L371.70,138.04 L372.20,138.04 L372.70,138.04 L373.20,138.04 L373.70,138.05 L374.20,138.05 L374.70,138.05 L375.20,138.05 L375.70,138.05 L375.70,134.85 L375.20,134.85 L374.70,134.85 L374.20,134.85 L373.70,134.85 L373.20,134.84 L372.70,134.84 L372.20,134.84 L371.71,134.84 L371.21,134.84 L370.71,134.84 L370.21,134.84 L369.71,134.84 L369.21,134.84 L368.71,134.84 L368.21,134.84 L367.71,134.84 L367.21,134.83 L366.71,134.83 L366.21,134.83 L365.71,134.83 L365.21,134.83 L364.71,134.83 L364.21,134.83 L363.71,134.83 L363.21,134.83 L362.71,134.83 L362.21,134.83 L361.71,134.83 L361.21,134.83 L360.71,134.83 L360.21,134.83 L359.71,134.83 L359.21,134.83 L358.71,134.83 L358.21,134.83 L357.71,134.83 L357.21,134.83 L356.71,134.82 L356.21,134.82 L355.71,134.82 L355.21,134.82 L354.71,134.82 L354.21,134.82 L353.71,134.82 L353.21,134.82 L352.71,134.82 L352.21,134.82 L351.71,134.82 L351.21,134.82 L350.71,134.82 L350.21,134.82 L349.71,134.82 L349.22,134.82 L348.72,134.82 L348.22,134.82 L347.72,134.82 L347.22,134.82 L346.72,134.82 L346.22,134.82 L345.72,134.82 L345.22,134.82 L344.72,134.82 L344.22,134.82 L343.72,134.82 L343.22,134.82 L342.72,134.82 L342.22,134.82 L341.72,134.82 L341.22,134.82 L340.72,134.82 L340.22,134.82 L339.72,134.83 L339.22,134.83 L338.72,134.83 L338.22,134.83 L337.72,134.83 L337.22,134.83 L336.72,134.83 L336.22,134.83 L335.72,134.83 L335.22,134.83 L334.72,134.83 L334.22,134.83 L333.72,134.83 L333.22,134.83 L332.72,134.83 L332.22,134.83 L331.72,134.83 L331.22,134.83 L330.72,134.83 L330.22,134.83 L329.72,134.83 L329.23,134.83 L328.73,134.83 L328.23,134.83 L327.73,134.83 L327.23,134.83 L326.73,134.83 L326.23,134.83 L325.73,134.83 L325.23,134.84 L324.73,134.84 L324.23,134.84 L323.73,134.84 L323.23,134.84 L322.73,134.84 L322.23,134.84 L321.73,134.84 L321.23,134.84 L320.73,134.84 L320.23,134.84 L319.73,134.84 L319.23,134.84 L318.73,134.84 L318.23,134.84 L317.73,134.84 L317.23,134.84 L316.73,134.84 L316.23,134.84 L315.73,134.84 L315.23,134.84 L314.73,134.85 L314.23,134.85 L313.73,134.85 L313.23,134.85 L312.73,134.85 L312.23,134.85 L311.73,134.85 L311.24,134.85 L310.74,134.85 L310.24,134.85 L309.74,134.85 L309.24,134.85 L308.74,134.85 L308.24,134.85 L307.74,134.85 L307.24,134.85 L306.74,134.85 L306.24,134.85 L305.74,134.85 L305.24,134.85 L304.74,134.85 L304.24,134.86 L303.74,134.86 L303.24,134.86 L302.74,134.86 L302.24,134.86 L301.74,134.86 L301.24,134.86 L300.74,134.86 L300.24,134.86 L299.74,134.86 L299.24,134.86 L298.74,134.86 L298.24,134.86 L297.74,134.86 L297.24,134.86 L296.74,134.86 L296.24,134.86 L295.74,134.86 L295.24,134.86 L294.75,134.86 L294.25,134.86 L293.75,134.86 L293.25,134.86 L292.75,134.86 L292.25,134.86 L291.75,134.86 L291.25,134.86 L290.75,134.86 L290.25,134.86 L289.75,134.87 L289.25,134.87 L288.75,134.87 L288.25,134.87 L287.75,134.87 L287.25,134.87 L286.75,134.87 L286.25,134.87 L285.75,134.87 L285.25,134.87 L284.75,134.87 L284.25,134.87 L283.75,134.87 L283.25,134.87 L282.75,134.87 L282.25,134.87 L281.75,134.87 L281.25,134.87 L280.75,134.87 L280.25,134.87 L279.75,134.87 L279.26,134.87 L278.76,134.87 L278.26,134.87 L277.76,134.87 L277.26,134.87 L276.76,134.87 L276.26,134.87 L275.76,134.87 L275.26,134.87 L274.76,134.87 L274.26,134.87 L273.76,134.86 L273.26,134.86 L272.76,134.86 L272.26,134.86 L271.76,134.86 L271.26,134.86 L270.76,134.86 L270.26,134.86 L269.76,134.86 L269.26,134.86 L268.76,134.86 L268.26,134.86 L267.76,134.86 L267.26,134.86 L266.76,134.86 L266.26,134.86 L265.76,134.86 L265.26,134.86 L264.77,134.86 L264.27,134.86 L263.77,134.86 L263.27,134.86 L262.77,134.85 L262.27,134.85 L261.77,134.85 L261.27,134.85 L260.77,134.85 L260.27,134.85 L259.77,134.85 L259.27,134.85 L258.77,134.85 L258.27,134.85 L257.77,134.85 L257.27,134.84 L256.77,134.84 L256.27,134.84 L255.77,134.84 L255.27,134.84 L254.77,134.84 L254.27,134.84 L253.77,134.84 L253.27,134.84 L252.77,134.83 L252.27,134.83 L251.78,134.83 L251.28,134.83 L250.78,134.83 L250.28,134.83 L249.78,134.83 L249.28,134.82 L248.78,134.82 L248.28,134.82 L247.78,134.82 L247.28,134.82 L246.78,134.81 L246.28,134.81 L245.78,134.81 L245.28,134.81 L244.78,134.81 L244.28,134.80 L243.78,134.80 L243.28,134.80 L242.78,134.80 L242.28,134.79 L241.79,134.79 L241.29,134.79 L240.79,134.78 L240.29,134.78 L239.79,134.78 L239.29,134.78 L238.79,134.77 L238.29,134.77 L237.79,134.77 L237.29,134.76 L236.79,134.76 L236.29,134.76 L235.79,134.75 L235.29,134.75 L234.79,134.74 L234.29,134.74 L233.79,134.73 L233.30,134.73 L232.80,134.72 L232.30,134.71 L231.80,134.71 L231.30,134.70 L230.80,134.70 L230.30,134.69 L229.80,134.68 L229.30,134.68 L228.80,134.67 L228.30,134.66 L227.80,134.66 L227.30,134.65 L226.80,134.64 L226.31,134.63 L225.81,134.63 L225.31,134.62 L224.81,134.61 L224.31,134.60 L223.81,134.59 L223.31,134.59 L222.81,134.58 L222.31,134.57 L221.81,134.56 L221.31,134.55 L220.82,134.54 L220.32,134.53 L219.82,134.52 L219.32,134.51 L218.82,134.50 L218.32,134.49 L217.82,134.48 L217.32,134.47 L216.82,134.46 L216.33,134.45 L215.83,134.43 L215.33,134.42 L214.83,134.41 L214.33,134.40 L213.83,134.38 L213.33,134.37 L212.84,134.36 L212.34,134.34 L211.84,134.33 L211.34,134.32 L210.84,134.30 L210.34,134.29 L209.84,134.27 L209.35,134.26 L208.85,134.24 L208.35,134.22 L207.85,134.21 L207.35,134.19 L206.86,134.17 L206.36,134.16 L205.86,134.14 L205.36,134.12 L204.86,134.10 L204.37,134.08 L203.87,134.06 L203.37,134.04 L202.87,134.02 L202.37,134.00 L201.88,133.98 L201.38,133.95 L200.88,133.93 L200.38,133.91 L199.89,133.88 L199.39,133.86 L198.89,133.83 L198.39,133.81 L197.90,133.78 L197.40,133.75 L196.90,133.73 L196.41,133.70 L195.91,133.67 L195.41,133.64 L194.92,133.61 L194.42,133.58 L193.93,133.54 L193.43,133.51 L192.93,133.48 L192.44,133.44 L191.94,133.41 L191.45,133.37 L190.95,133.34 L190.46,133.30 L189.96,133.26 L189.47,133.22 L188.97,133.18 L188.48,133.14 L187.98,133.10 L187.49,133.06 L186.99,133.01 L186.50,132.97 L186.00,132.92 L185.51,132.88 L185.01,132.83 L184.52,132.78 L184.02,132.73 L183.53,132.69 L183.04,132.64 L182.54,132.59 L182.05,132.53 L181.55,132.48 L181.06,132.43 L180.56,132.38 L180.07,132.32 L179.57,132.27 L179.08,132.21 L178.58,132.16 L178.09,132.10 L177.60,132.04 L177.10,131.99 L176.61,131.93 L176.11,131.87 L175.62,131.81 L175.12,131.75 L174.63,131.69 L174.14,131.62 L173.64,131.56 L173.15,131.50 L172.65,131.43 L172.16,131.37 L171.67,131.31 L171.17,131.24 L170.68,131.17 L170.19,131.11 L169.69,131.04 L169.20,130.97 L168.71,130.90 L168.21,130.84 L167.72,130.77 L167.23,130.70 L166.74,130.63 L166.24,130.56 L165.75,130.48 L165.26,130.41 L164.77,130.34 L164.27,130.27 L163.78,130.19 L163.29,130.12 L162.80,130.05 L162.31,129.97 L161.81,129.90 L161.32,129.82 L160.83,129.74 L160.34,129.67 L159.85,129.59 L159.36,129.51 L158.87,129.43 L158.38,129.35 L157.89,129.27 L157.40,129.19 L156.91,129.10 L156.42,129.02 L155.93,128.94 L155.44,128.85 L154.95,128.77 L154.46,128.68 L153.97,128.59 L153.49,128.50 L153.00,128.41 L152.51,128.32 L152.02,128.23 L151.54,128.14 L151.05,128.04 L150.56,127.95 L150.08,127.85 L149.59,127.75 L149.11,127.66 L148.62,127.56 L148.13,127.46 L147.65,127.36 L147.17,127.26 L146.68,127.15 L146.20,127.05 L145.71,126.94 L145.23,126.83 L144.75,126.72 L144.27,126.61 L143.78,126.50 L143.30,126.39 L142.82,126.28 L142.34,126.16 L141.86,126.04 L141.37,125.93 L140.89,125.81 L140.41,125.69 L139.93,125.57 L139.45,125.45 L138.97,125.32 L138.49,125.20 L138.01,125.08 L137.53,124.95 L137.04,124.83 L136.56,124.70 L136.08,124.57 L135.60,124.45 L135.12,124.32 L134.64,124.19 L134.16,124.06 L133.68,123.93 L133.20,123.80 L132.72,123.67 L132.24,123.54 L131.76,123.41 L131.28,123.27 L130.80,123.14 L130.33,123.01 L129.85,122.87 L129.37,122.74 L128.89,122.60 L128.41,122.47 L127.93,122.33 L127.46,122.19 L126.98,122.05 L126.50,121.91 L126.02,121.77 L125.55,121.63 L125.07,121.49 L124.59,121.35 L124.11,121.20 L123.63,121.06 L123.15,120.92 L122.67,120.77 L122.19,120.63 L121.71,120.49 L121.22,120.35 L120.73,120.21 L120.24,120.08 L119.75,119.94 L119.25,119.81 L118.75,119.68 L118.25,119.56 L117.73,119.43 L117.21,119.32 L116.67,119.21 L116.13,119.11 L115.58,119.03 L115.02,118.96 L114.45,118.92 L113.87,118.90 L113.29,118.91 L112.69,118.94 L112.08,119.01 L111.46,119.12 L110.84,119.27 L110.22,119.47 L109.61,119.72 L109.03,120.02 L108.50,120.36 L108.00,120.73 L107.52,121.14 L107.06,121.58 L106.63,122.06 L106.23,122.57 L105.89,123.09 L105.60,123.58 L105.34,124.07 L105.09,124.57 L104.86,125.07 L104.64,125.57 L104.44,126.08 L104.24,126.59 L104.06,127.10 L103.89,127.61 L103.73,128.12 L103.58,128.63 L103.44,129.13 L103.30,129.64 L103.17,130.14 L103.05,130.64 L102.93,131.14 L102.81,131.65 L102.70,132.14 L102.59,132.64 L102.49,133.14 L102.39,133.64 L102.29,134.13 L102.19,134.62 L102.09,135.12 L102.00,135.61 L101.90,136.10 L101.81,136.59 L101.71,137.07 L101.62,137.56 L101.52,138.04 L101.42,138.53 L101.32,139.01 L101.22,139.49 L101.11,139.98 L101.00,140.48 L100.89,140.97 L100.79,141.47 L100.68,141.96 L100.58,142.46 L100.47,142.95 L100.37,143.45 L100.27,143.94 L100.16,144.43 L100.06,144.93 L99.96,145.42 L99.86,145.92 L99.75,146.41 L99.65,146.90 L99.55,147.40 L99.45,147.89 L99.35,148.38 L99.25,148.87 L99.14,149.36 L99.04,149.85 L98.94,150.34 L98.84,150.83 L98.73,151.32 L98.63,151.81 L98.53,152.30 L98.42,152.78 L98.32,153.27 L98.21,153.76 L98.10,154.24 L98.00,154.73 L97.89,155.21 L97.78,155.69 L97.67,156.17 L97.56,156.66 L97.45,157.14 L97.33,157.62 L97.22,158.09 L97.10,158.57 L96.99,159.05 L96.87,159.52 L96.75,160.00 L96.63,160.47 L96.50,160.95 L96.38,161.42 L96.25,161.89 L96.13,162.36 L96.00,162.83 L95.87,163.29 L95.73,163.76 L95.60,164.22 L95.47,164.68 L95.33,165.12 L95.18,165.57 L95.03,166.01 L94.87,166.47 L94.70,166.92 L94.53,167.38 L94.36,167.85 L94.18,168.31 L94.00,168.78 L93.82,169.26 L93.64,169.74 L93.46,170.22 L93.29,170.71 L93.12,171.20 L92.95,171.70 L92.79,172.20 L92.64,172.69 L92.49,173.17 L92.35,173.64 L92.20,174.10 L92.06,174.54 L91.91,174.98 L91.75,175.41 L91.58,175.83 L91.39,176.26 L91.20,176.68 L91.00,177.11 L90.79,177.53 L90.58,177.96 L90.36,178.39 L90.13,178.81 L89.90,179.23 L89.67,179.64 L89.43,180.05 L89.19,180.45 L88.94,180.84 L88.69,181.23 L88.43,181.60 L88.16,181.97 L87.88,182.33 L87.60,182.68 L87.32,183.01 L87.02,183.33 L86.72,183.64 L86.41,183.93 L86.11,184.19 L85.82,184.40 L85.56,184.55 L85.37,184.63 L85.31,184.65 L85.31,184.65 L85.18,184.60 L84.97,184.49 L84.74,184.33 L84.51,184.12 L84.26,183.85 L84.01,183.54 L83.75,183.19 L83.47,182.81 L83.20,182.41 L82.93,182.01 L82.66,181.62 L82.41,181.21 L82.15,180.80 L81.90,180.39 L81.64,179.97 L81.39,179.55 L81.13,179.12 L80.87,178.69 L80.61,178.27 L80.36,177.84 L80.11,177.42 L79.86,177.00 L79.61,176.57 L79.37,176.15 L79.13,175.72 L78.89,175.30 L78.65,174.87 L78.42,174.44 L78.19,174.01 L77.96,173.58 L77.74,173.15 L77.52,172.72 L77.31,172.28 L77.10,171.85 L76.88,171.41 L76.67,170.97 L76.46,170.52 L76.25,170.07 L76.04,169.62 L75.82,169.16 L75.61,168.70 L75.39,168.24 L75.18,167.79 L74.97,167.35 L74.76,166.89 L74.55,166.43 L74.34,165.96 L74.12,165.49 L73.88,165.02 L73.64,164.54 L73.38,164.06 L73.10,163.58 L72.79,163.10 L72.45,162.62 L72.09,162.15 L71.70,161.70 L71.30,161.27 L70.87,160.86 L70.41,160.46 L69.90,160.08 L69.36,159.73 L68.75,159.41 L68.01,159.12 L67.12,158.96 L66.16,159.02 L65.28,159.31 L64.53,159.74 L63.94,160.23 L63.47,160.72 L63.06,161.23 L62.70,161.76 L62.38,162.31 L62.12,162.84 L61.89,163.35 L61.67,163.85 L61.47,164.36 L61.29,164.87 L61.11,165.39 L60.95,165.90 L60.80,166.42 L60.66,166.94 L60.53,167.46 L60.41,167.98 L60.30,168.49 L60.20,169.01 L60.10,169.52 L60.01,170.03 L59.93,170.53 L59.84,171.04 L59.77,171.54 L59.69,172.03 L59.61,172.53 L59.54,173.02 L59.47,173.51 L59.39,174.00 L59.31,174.48 L59.23,174.97 L59.15,175.47 L59.06,175.96 L58.98,176.45 L58.90,176.95 L58.82,177.44 L58.74,177.93 L58.65,178.42 L58.57,178.92 L58.49,179.41 L58.41,179.90 L58.33,180.40Z" fill="#ff0000" stroke="#ff0000" stroke-width="0.2" stroke-linejoin="round"/>
</g>
<text x="2.33" y="33.85" font-size="20.3" fill="#000" style="font-family:'Liberation Sans',sans-serif">k</text>
<text x="11.69" y="38.15" font-size="14.4" fill="#000" style="font-family:'Liberation Sans',sans-serif" letter-spacing="0.290">eff</text>
<text x="29.64" y="33.85" font-size="20.3" fill="#000" style="font-family:'Liberation Sans',sans-serif">(</text>
<text x="34.94" y="33.85" font-size="20.3" fill="#000" style="font-family:'Liberation Sans',sans-serif">Q</text>
<text x="51.98" y="33.85" font-size="20.3" fill="#000" style="font-family:'Liberation Sans',sans-serif">)</text>
<text x="64.15" y="33.85" font-size="20.3" fill="#000" style="font-family:'Liberation Sans',sans-serif">[</text>
<text x="70.68" y="33.85" font-size="20.3" fill="#000" style="font-family:'Liberation Sans',sans-serif">G</text>
<text x="86.84" y="33.85" font-size="20.3" fill="#000" style="font-family:'Liberation Sans',sans-serif">e</text>
<text x="98.31" y="33.85" font-size="20.3" fill="#000" style="font-family:'Liberation Sans',sans-serif">V</text>
<text x="111.34" y="33.85" font-size="20.3" fill="#000" style="font-family:'Liberation Sans',sans-serif">]</text>
<text x="385.84" y="248.80" font-size="20.3" fill="#000" style="font-family:'Liberation Sans',sans-serif" letter-spacing="0.063">Q [GeV]</text>
<text x="83.31" y="78.70" font-size="20.3" fill="#000" style="font-family:'Liberation Sans',sans-serif">V</text>
<text x="95.81" y="83.05" font-size="14.0" fill="#000" style="font-family:'Liberation Sans',sans-serif">conf</text>
<path d="M130.60,75.22 C132.13,71.48 134.17,72.16 135.70,74.20 S139.27,76.92 140.80,73.18" fill="none" stroke="#000" stroke-width="1.1" stroke-linecap="round"/>
<text x="147.85" y="78.70" font-size="20.3" fill="#000" style="font-family:'Liberation Sans',sans-serif">r</text>
<text x="154.95" y="69.55" font-size="15.0" fill="#000" style="font-family:'Liberation Sans',sans-serif">2</text>
<text x="184.11" y="78.70" font-size="20.3" fill="#ff0000" style="font-family:'Liberation Sans',sans-serif">V</text>
<text x="196.21" y="83.05" font-size="14.0" fill="#ff0000" style="font-family:'Liberation Sans',sans-serif">conf</text>
<path d="M228.30,75.22 C229.88,71.48 231.98,72.16 233.55,74.20 S237.23,76.92 238.80,73.18" fill="none" stroke="#ff0000" stroke-width="1.1" stroke-linecap="round"/>
<text x="246.25" y="78.70" font-size="20.3" fill="#ff0000" style="font-family:'Liberation Sans',sans-serif">r</text>
<text x="268.41" y="78.70" font-size="20.3" fill="#0000ff" style="font-family:'Liberation Sans',sans-serif">V</text>
<text x="281.01" y="83.05" font-size="14.0" fill="#0000ff" style="font-family:'Liberation Sans',sans-serif">conf</text>
<path d="M313.00,75.22 C314.62,71.48 316.78,72.16 318.40,74.20 S322.18,76.92 323.80,73.18" fill="none" stroke="#0000ff" stroke-width="1.1" stroke-linecap="round"/>
<text x="329.35" y="78.70" font-size="20.3" fill="#0000ff" style="font-family:'Liberation Sans',sans-serif">r</text>
<text x="336.86" y="69.55" font-size="15.0" fill="#0000ff" style="font-family:'Liberation Sans',sans-serif" letter-spacing="-0.478">1/2</text>
<text x="184.03" y="161.00" font-size="20.3" fill="#ff00ff" style="font-family:'Liberation Sans',sans-serif">k</text>
<text x="193.75" y="165.30" font-size="14.0" fill="#ff00ff" style="font-family:'Liberation Sans',sans-serif">LD</text>
<text x="215.81" y="162.80" font-size="20.3" fill="#ff00ff" style="font-family:'Liberation Sans',sans-serif">=</text>
<text x="227.64" y="161.00" font-size="20.3" fill="#ff00ff" style="font-family:'Liberation Sans',sans-serif">(</text>
<text x="235.07" y="161.00" font-size="20.3" fill="#ff00ff" style="font-family:'Liberation Sans',sans-serif">6</text>
<text x="245.29" y="161.00" font-size="21" fill="#ff00ff" style="font-family:'Liberation Serif',serif;font-style:italic">π</text>
<text x="256.25" y="152.40" font-size="15.0" fill="#ff00ff" style="font-family:'Liberation Sans',sans-serif">2</text>
<text x="264.23" y="161.00" font-size="20.3" fill="#ff00ff" style="font-family:'Liberation Sans',sans-serif">R</text>
<text x="279.21" y="165.30" font-size="14.0" fill="#ff00ff" style="font-family:'Liberation Sans',sans-serif">g</text>
<text x="287.78" y="161.40" font-size="20.3" fill="#ff00ff" style="font-family:'Liberation Sans',sans-serif">)</text>
<text x="294.06" y="152.70" font-size="15.0" fill="#ff00ff" style="font-family:'Liberation Sans',sans-serif" letter-spacing="-0.425">1/3</text>
<text x="122.70" y="265.6" font-size="20.4" text-anchor="middle" style="font-family:'Liberation Serif',serif">2</text>
<text x="185.90" y="265.6" font-size="20.4" text-anchor="middle" style="font-family:'Liberation Serif',serif">4</text>
<text x="249.10" y="265.6" font-size="20.4" text-anchor="middle" style="font-family:'Liberation Serif',serif">6</text>
<text x="312.30" y="265.6" font-size="20.4" text-anchor="middle" style="font-family:'Liberation Serif',serif">8</text>
<text x="376.30" y="265.6" font-size="20.4" text-anchor="middle" style="font-family:'Liberation Serif',serif">10</text>
<text x="53.0" y="200.65" font-size="20.4" text-anchor="end" style="font-family:'Liberation Serif',serif">0.6</text>
<text x="53.0" y="151.90" font-size="20.4" text-anchor="end" style="font-family:'Liberation Serif',serif">0.7</text>
<text x="53.0" y="103.15" font-size="20.4" text-anchor="end" style="font-family:'Liberation Serif',serif">0.8</text>
<text x="53.0" y="54.40" font-size="20.4" text-anchor="end" style="font-family:'Liberation Serif',serif">0.9</text>
</svg>
</body></html>
